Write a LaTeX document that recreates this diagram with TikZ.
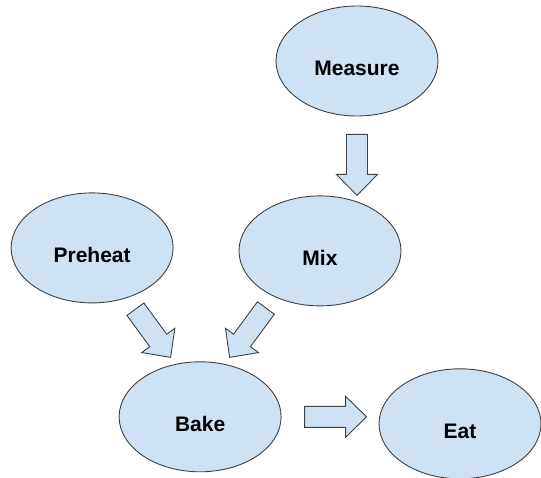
\documentclass[tikz,border=0pt]{standalone}
\usepackage{fontspec}
\setmainfont{Liberation Sans}
\usepackage{xcolor}
\usepackage{tikz}
\usetikzlibrary{shapes,arrows,positioning,calc}

\definecolor{bubble}{RGB}{207,226,243}
\definecolor{rim}{RGB}{64,64,64}

\begin{document}
\begin{tikzpicture}[every node/.style={ellipse, draw=rim, fill=bubble, line width=0.9pt, minimum width=162pt, minimum height=110pt, text height=30pt, text depth=0pt, font=\bfseries\fontsize{21}{25}\selectfont},
  fat arrow/.style 2 args={draw=rim, fill=bubble, line width=0.9pt, line join=miter,
    to path={let \p1=(\tikztostart), \p2=(\tikztotarget),
      \n1={atan2(\y2-\y1,\x2-\x1)}, \n2={veclen(\x2-\x1,\y2-\y1)} in
      ($(\p1)+(\n1:#1)+(\n1+90:10.5pt)$)
      -- ($(\p1)+(\n1:\n2-#2-21pt)+(\n1+90:10.5pt)$)
      -- ($(\p1)+(\n1:\n2-#2-21pt)+(\n1+90:20.5pt)$)
      -- ($(\p1)+(\n1:\n2-#2)$)
      -- ($(\p1)+(\n1:\n2-#2-21pt)+(\n1-90:20.5pt)$)
      -- ($(\p1)+(\n1:\n2-#2-21pt)+(\n1-90:10.5pt)$)
      -- ($(\p1)+(\n1:#1)+(\n1-90:10.5pt)$) -- cycle}}]

\useasboundingbox (0,0) rectangle (541pt,-478pt);

\node (measure) at (357pt,-61pt) {Measure};
\node (mix) [below=79pt of measure, xshift=-37pt] {Mix};
\node (preheat) [left=65pt of mix, yshift=3pt] {Preheat};
\node (bake) [below=58pt of preheat, xshift=108pt] {Bake};
\node (eat) [right=97pt of bake, yshift=-7pt] {Eat};

\draw[fat arrow={18pt}{0pt}] (measure.south) to (measure.south |- mix.north);
\draw[fat arrow={14pt}{8pt}] (preheat.-55) to (bake.115);
\draw[fat arrow={14pt}{8pt}] (mix.-135) to (bake.65);
\draw[fat arrow={23pt}{12pt}] (bake.east) to (bake.east -| eat.west);

\end{tikzpicture}
\end{document}
